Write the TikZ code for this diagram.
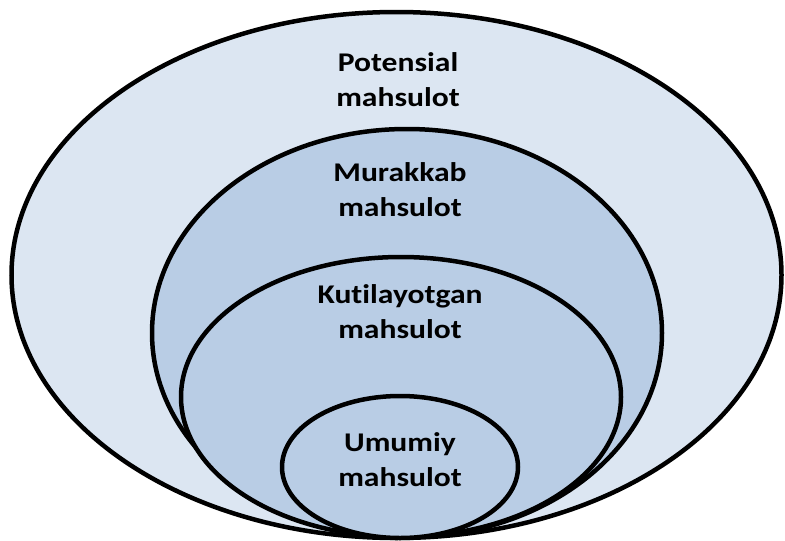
\documentclass[tikz,border=0pt]{standalone}
\usepackage{fontspec}
\setmainfont[FakeStretch=1.17, Ligatures={NoCommon}]{Carlito}
\usepackage{tikz}
\usetikzlibrary{shapes, positioning}

\definecolor{lightblue}{RGB}{220,230,242}
\definecolor{midblue}{RGB}{185,205,229}

\begin{document}
\begin{tikzpicture}[x=1pt, y=-1pt]
	\tikzstyle{layer} = [draw, line width=4.5pt, ellipse, inner sep=0pt]
	\tikzstyle{caption} = [align=center, font=\fontsize{27}{35}\selectfont\bfseries, inner sep=0pt]

	\useasboundingbox (0,0) rectangle (785,541);

	\begin{scope}
		\path
			node[layer, fill=lightblue, minimum width=770pt, minimum height=526pt] (potential) at (396.5,275) {}
			node[layer, fill=midblue, minimum width=510pt, minimum height=408pt] (complex) at (407,333) {}
			node[layer, fill=midblue, minimum width=440pt, minimum height=280pt] (expected) at (401,397) {}
			node[layer, fill=midblue, minimum width=236pt, minimum height=142pt] (generic) at (400,467) {}
		;
		\path
			node[caption] (t1) at (398,80) {Potensial\\mahsulot}
			node[caption] (t2) at (400,190) {Murakkab\\mahsulot}
			node[caption] (t3) at (400,312) {Kutilayotgan\\mahsulot}
			node[caption] (t4) at (400,460) {Umumiy\\mahsulot}
		;
	\end{scope}
\end{tikzpicture}
\end{document}
